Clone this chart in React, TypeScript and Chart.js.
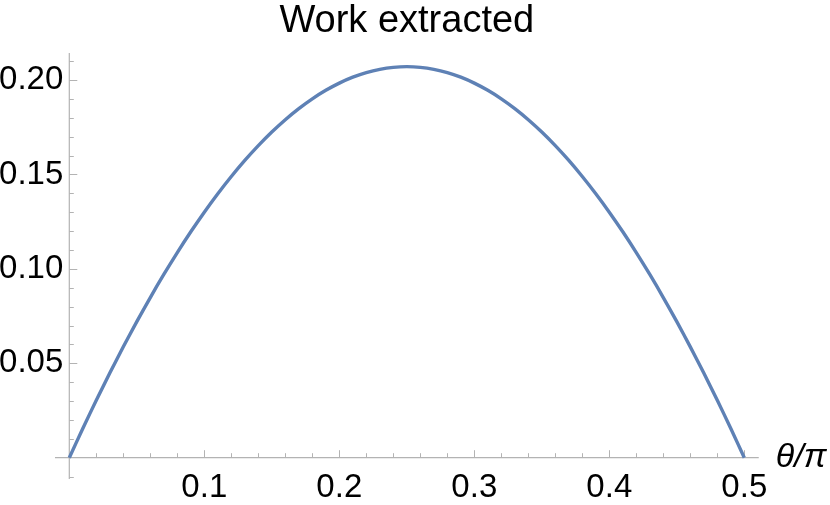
import React, { useEffect, useRef } from 'react';
import { Chart, registerables } from 'chart.js';

Chart.register(...registerables);

const titleText = 'Work extracted';
const axisLabel = 'θ/π';

const thetaOverPi = [
  0, 0.01, 0.02, 0.03, 0.04, 0.05, 0.06, 0.07, 0.08, 0.09,
  0.1, 0.11, 0.12, 0.13, 0.14, 0.15, 0.16, 0.17, 0.18, 0.19,
  0.2, 0.21, 0.22, 0.23, 0.24, 0.25, 0.26, 0.27, 0.28, 0.29,
  0.3, 0.31, 0.32, 0.33, 0.34, 0.35, 0.36, 0.37, 0.38, 0.39,
  0.4, 0.41, 0.42, 0.43, 0.44, 0.45, 0.46, 0.47, 0.48, 0.49, 0.5,
];

const workValues = [
  0, 0.01546, 0.03041, 0.04484, 0.05872, 0.07206, 0.08483, 0.09703, 0.10864, 0.11964,
  0.13004, 0.13981, 0.14895, 0.15745, 0.1653, 0.1725, 0.17903, 0.18489, 0.19008, 0.19458,
  0.1984, 0.20153, 0.20397, 0.20571, 0.20676, 0.20711, 0.20676, 0.20571, 0.20397, 0.20153,
  0.1984, 0.19458, 0.19008, 0.18489, 0.17903, 0.1725, 0.1653, 0.15745, 0.14895, 0.13981,
  0.13004, 0.11964, 0.10864, 0.09703, 0.08483, 0.07206, 0.05872, 0.04484, 0.03041, 0.01546, 0,
];

const xTickValues = [0.1, 0.2, 0.3, 0.4, 0.5];
const xTickLabels = ['0.1', '0.2', '0.3', '0.4', '0.5'];
const yTickValues = [0.05, 0.1, 0.15, 0.2];
const yTickLabels = ['0.05', '0.10', '0.15', '0.20'];

const xMinorStep = 0.02;
const yMinorStep = 0.01;

const FONT = "'Liberation Sans', Arial, Helvetica, sans-serif";
const LINE_COLOR = '#5E81B5';
const AXIS_COLOR = '#b3b3b3';

const X_AXIS_FROM = -0.0106;
const X_AXIS_TO = 0.5107;
const Y_AXIS_FROM = -0.0113;
const Y_AXIS_TO = 0.2143;

function near(a: number, b: number) {
  return Math.abs(a - b) < 1e-6;
}

const axesPlugin = {
  id: 'mmaAxes',
  beforeDatasetsDraw(chart: any) {
    const { ctx } = chart;
    const xs = chart.scales.x;
    const ys = chart.scales.y;
    const x0 = xs.getPixelForValue(0);
    const y0 = ys.getPixelForValue(0);
    ctx.save();
    ctx.strokeStyle = AXIS_COLOR;
    ctx.lineWidth = 1.2;
    ctx.beginPath();
    ctx.moveTo(xs.getPixelForValue(X_AXIS_FROM), y0);
    ctx.lineTo(xs.getPixelForValue(X_AXIS_TO), y0);
    ctx.moveTo(x0, ys.getPixelForValue(Y_AXIS_FROM));
    ctx.lineTo(x0, ys.getPixelForValue(Y_AXIS_TO));
    ctx.stroke();

    ctx.lineWidth = 1;
    ctx.beginPath();
    for (let k = 1; k * xMinorStep <= X_AXIS_TO + 1e-9; k++) {
      const v = k * xMinorStep;
      const major = xTickValues.some((t) => near(t, v));
      const len = major ? 7.5 : 4.5;
      const px = Math.round(xs.getPixelForValue(v)) + 0.5;
      ctx.moveTo(px, y0);
      ctx.lineTo(px, y0 - len);
    }
    for (let k = -1; k * yMinorStep <= Y_AXIS_TO + 1e-9; k++) {
      if (k === 0) continue;
      const v = k * yMinorStep;
      const major = yTickValues.some((t) => near(t, v));
      const len = major ? 8 : 4.5;
      const py = Math.round(ys.getPixelForValue(v)) + 0.5;
      ctx.moveTo(x0, py);
      ctx.lineTo(x0 + len, py);
    }
    ctx.stroke();
    ctx.restore();
  },
  afterDraw(chart: any) {
    const { ctx } = chart;
    const xs = chart.scales.x;
    const ys = chart.scales.y;
    ctx.save();
    ctx.fillStyle = '#000';
    ctx.font = `italic 34px ${FONT}`;
    ctx.textAlign = 'left';
    ctx.textBaseline = 'alphabetic';
    ctx.fillText(axisLabel, xs.getPixelForValue(X_AXIS_TO) + 17, ys.getPixelForValue(0) + 9);
    ctx.restore();
  },
};

export default function App() {
  const ref = useRef<HTMLCanvasElement | null>(null);

  useEffect(() => {
    document.body.style.margin = '0';
    const canvas = ref.current;
    if (!canvas) return;
    const chart = new Chart(canvas, {
      type: 'line',
      data: {
        datasets: [
          {
            data: thetaOverPi.map((t, i) => ({ x: t, y: workValues[i] })),
            borderColor: LINE_COLOR,
            borderWidth: 3.4,
            pointRadius: 0,
            tension: 0.3,
            fill: false,
            clip: false as any,
          },
        ],
      },
      options: {
        responsive: false,
        animation: false,
        layout: { padding: { left: 0, right: 85.7, top: 0, bottom: 0 } },
        plugins: {
          legend: { display: false },
          tooltip: { enabled: false },
          title: {
            display: true,
            text: titleText,
            fullSize: false,
            color: '#000',
            font: { family: FONT, size: 38, weight: 'normal', lineHeight: 1.1 },
            padding: { top: 0.6, bottom: 18.8 },
          },
        },
        scales: {
          x: {
            type: 'linear',
            min: 0,
            max: 0.5,
            border: { display: false },
            grid: { display: false, drawTicks: false },
            afterBuildTicks: (s: any) => {
              s.ticks = xTickValues.map((v) => ({ value: v }));
            },
            afterFit: (s: any) => {
              s.height = 47.3;
            },
            ticks: {
              autoSkip: false,
              maxRotation: 0,
              color: '#000',
              padding: 10.5,
              font: { family: FONT, size: 33 },
              callback: (v: any) => {
                const i = xTickValues.findIndex((t) => near(t, Number(v)));
                return i >= 0 ? xTickLabels[i] : '';
              },
            },
          },
          y: {
            type: 'linear',
            min: 0,
            max: 0.21,
            border: { display: false },
            grid: { display: false, drawTicks: false },
            afterBuildTicks: (s: any) => {
              s.ticks = yTickValues.map((v) => ({ value: v }));
            },
            afterFit: (s: any) => {
              s.width = 69.3;
            },
            ticks: {
              autoSkip: false,
              color: '#000',
              padding: 6,
              font: { family: FONT, size: 33 },
              callback: (v: any) => {
                const i = yTickValues.findIndex((t) => near(t, Number(v)));
                return i >= 0 ? yTickLabels[i] : '';
              },
            },
          },
        },
      },
      plugins: [axesPlugin],
    } as any);
    return () => chart.destroy();
  }, []);

  return (
    <div style={{ width: 830, height: 505 }}>
      <canvas ref={ref} width={830} height={505} style={{ display: 'block', width: 830, height: 505 }} />
    </div>
  );
}
